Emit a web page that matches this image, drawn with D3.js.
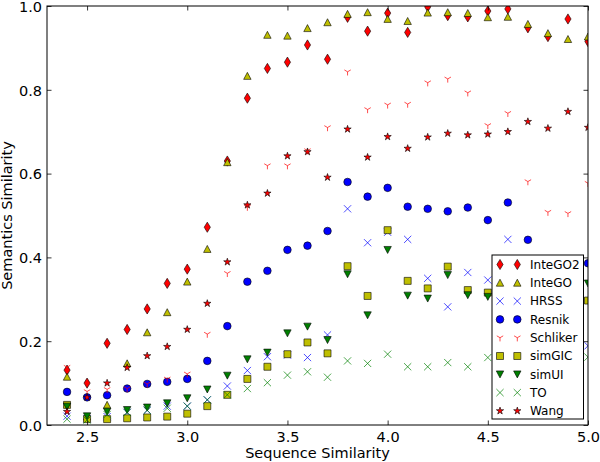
<!DOCTYPE html>
<html>
<head>
<meta charset="utf-8">
<script src="https://cdn.jsdelivr.net/npm/d3@7"></script>
<style>
  html, body { margin: 0; padding: 0; background: #fff; }
  svg { display: block; }
  text { font-family: "DejaVu Sans", sans-serif; fill: #000; }
</style>
</head>
<body>
<svg id="chart" width="600" height="462"></svg>
<script>
// ---- data ----
const xs = [2.4, 2.5, 2.6, 2.7, 2.8, 2.9, 3.0, 3.1, 3.2, 3.3, 3.4, 3.5, 3.6, 3.7, 3.8, 3.9, 4.0, 4.1, 4.2, 4.3, 4.4, 4.5, 4.6, 4.7, 4.8, 4.9, 5.0];

const inteGO2 = [0.131, 0.100, 0.195, 0.228, 0.277, 0.338, 0.372, 0.472, 0.630, 0.780, 0.851, 0.866, 0.907, 0.873, 0.973, 0.940, 0.983, 0.937, 0.998, 0.977, 0.974, 0.988, 0.993, 0.948, 0.927, 0.969, 0.915];
const inteGO  = [0.115, 0.020, 0.048, 0.147, 0.221, 0.269, 0.342, 0.420, 0.627, 0.833, 0.931, 0.929, 0.947, 0.961, 0.981, 0.985, 0.969, 0.964, 0.984, 0.985, 0.983, 0.973, 0.974, 0.957, 0.935, 0.921, 0.927];
const hrss    = [0.021, 0.015, 0.020, 0.030, 0.035, 0.045, 0.045, 0.060, 0.093, 0.130, 0.163, 0.167, 0.161, 0.215, 0.516, 0.435, 0.460, 0.443, 0.350, 0.282, 0.364, 0.346, 0.443, 0.300, 0.280, 0.300, 0.189];
const resnik  = [0.079, 0.066, 0.071, 0.087, 0.098, 0.103, 0.110, 0.153, 0.236, 0.342, 0.368, 0.418, 0.428, 0.463, 0.580, 0.545, 0.566, 0.521, 0.516, 0.510, 0.519, 0.489, 0.531, 0.442, 0.370, 0.370, 0.386];
const schliker= [0.138, 0.080, 0.085, 0.087, 0.098, 0.110, 0.122, 0.217, 0.362, 0.520, 0.619, 0.619, 0.655, 0.710, 0.843, 0.753, 0.764, 0.766, 0.817, 0.826, 0.793, 0.715, 0.744, 0.581, 0.508, 0.505, 0.577];
const simGIC  = [0.048, 0.014, 0.014, 0.016, 0.018, 0.020, 0.027, 0.045, 0.072, 0.110, 0.139, 0.169, 0.197, 0.171, 0.379, 0.308, 0.465, 0.344, 0.326, 0.378, 0.322, 0.316, 0.320, 0.310, 0.300, 0.310, 0.297];
const simUI   = [0.044, 0.021, 0.032, 0.036, 0.042, 0.052, 0.064, 0.085, 0.118, 0.157, 0.173, 0.219, 0.235, 0.203, 0.360, 0.262, 0.418, 0.309, 0.302, 0.358, 0.310, 0.306, 0.310, 0.300, 0.290, 0.300, 0.338];
const to      = [0.014, 0.012, 0.025, 0.030, 0.035, 0.040, 0.045, 0.060, 0.072, 0.087, 0.101, 0.119, 0.127, 0.114, 0.153, 0.147, 0.169, 0.139, 0.139, 0.149, 0.139, 0.161, 0.150, 0.150, 0.150, 0.150, 0.162];
const wang    = [0.032, 0.066, 0.100, 0.137, 0.165, 0.187, 0.228, 0.290, 0.389, 0.525, 0.553, 0.642, 0.652, 0.591, 0.706, 0.639, 0.688, 0.660, 0.687, 0.696, 0.692, 0.694, 0.700, 0.724, 0.708, 0.748, 0.710];

const seriesNames = ["InteGO2", "InteGO", "HRSS", "Resnik", "Schliker", "simGIC", "simUI", "TO", "Wang"];
const seriesValues = [inteGO2, inteGO, hrss, resnik, schliker, simGIC, simUI, to, wang];

const xTicks = [2.5, 3.0, 3.5, 4.0, 4.5, 5.0];
const yTicks = [0.0, 0.2, 0.4, 0.6, 0.8, 1.0];

// ---- marker styles ----
const RED = "#ff0000", YEL = "#bfbf00", BLUE = "#0000ff", GRN = "#008000";
const starPath = d3.symbol().type(d3.symbolStar).size(16.5)();
const styles = [
  { d: "M0,-5.1L3.1,0L0,5.1L-3.1,0Z", fill: RED, stroke: "#000", sw: 0.6 },
  { d: "M0,-3.6L3.7,3.4L-3.7,3.4Z", fill: YEL, stroke: "#000", sw: 0.6 },
  { d: "M-3.6,-3.6L3.6,3.6M-3.6,3.6L3.6,-3.6", fill: "none", stroke: BLUE, sw: 0.7 },
  { d: d3.symbol().type(d3.symbolCircle).size(Math.PI * 3.8 * 3.8)(), fill: BLUE, stroke: "#000", sw: 0.6 },
  { d: "M0,0L0,3.7M0,0L-3.2,-1.85M0,0L3.2,-1.85", fill: "none", stroke: RED, sw: 0.7 },
  { d: "M-3.5,-3.5H3.5V3.5H-3.5Z", fill: YEL, stroke: "#000", sw: 0.6 },
  { d: "M0,3.6L3.7,-3.4L-3.7,-3.4Z", fill: GRN, stroke: "#000", sw: 0.6 },
  { d: "M-3.6,-3.6L3.6,3.6M-3.6,3.6L3.6,-3.6", fill: "none", stroke: GRN, sw: 0.7 },
  { d: starPath, fill: RED, stroke: "#000", sw: 0.6 }
];

// ---- layout ----
const L = 47, R = 588, T = 6, B = 425;
const svg = d3.select("#chart");
const x = d3.scaleLinear().domain([2.3, 5.0]).range([L, R]);
const y = d3.scaleLinear().domain([0, 1]).range([B, T]);

svg.append("defs").append("clipPath").attr("id", "plotclip")
  .append("rect").attr("x", L).attr("y", T).attr("width", R - L).attr("height", B - T);

// points
const plot = svg.append("g").attr("clip-path", "url(#plotclip)");
seriesValues.forEach((vals, si) => {
  const st = styles[si];
  plot.append("g").selectAll("path").data(vals).join("path")
    .attr("transform", (v, i) => `translate(${x(xs[i])},${y(v)})`)
    .attr("d", st.d)
    .attr("fill", st.fill)
    .attr("stroke", st.stroke)
    .attr("stroke-width", st.sw);
});

// axes (ticks inward, mirrored)
const fmt = d3.format(".1f");
const ax = svg.append("g").attr("transform", `translate(0,${B})`)
  .call(d3.axisBottom(x).tickValues(xTicks).tickFormat(fmt).tickSizeInner(-4.5).tickSizeOuter(0).tickPadding(7));
const axT = svg.append("g").attr("transform", `translate(0,${T})`)
  .call(d3.axisTop(x).tickValues(xTicks).tickFormat("").tickSizeInner(-4.5).tickSizeOuter(0));
const ay = svg.append("g").attr("transform", `translate(${L},0)`)
  .call(d3.axisLeft(y).tickValues(yTicks).tickFormat(fmt).tickSizeInner(-4.5).tickSizeOuter(0).tickPadding(5));
const ayR = svg.append("g").attr("transform", `translate(${R},0)`)
  .call(d3.axisRight(y).tickValues(yTicks).tickFormat("").tickSizeInner(-4.5).tickSizeOuter(0));
[ax, axT, ay, ayR].forEach(g => {
  g.select(".domain").remove();
  g.selectAll(".tick line").attr("stroke", "#000").attr("stroke-width", 0.8);
  g.selectAll(".tick text").attr("font-size", 14.5).attr("font-family", "DejaVu Sans").attr("fill", "#000");
});
ay.selectAll(".tick text").attr("dy", "0.37em");

// frame
svg.append("rect").attr("x", L).attr("y", T).attr("width", R - L).attr("height", B - T)
  .attr("fill", "none").attr("stroke", "#000").attr("stroke-width", 1);

// axis titles
svg.append("text").attr("x", (L + R) / 2).attr("y", 458).attr("text-anchor", "middle")
  .attr("font-size", 14.5).text("Sequence Similarity");
svg.append("text").attr("transform", `translate(12,${(T + B) / 2}) rotate(-90)`)
  .attr("text-anchor", "middle").attr("font-size", 14.5).text("Semantics Similarity");

// legend
const lg = svg.append("g");
const lgX = 492, lgY = 255, lgW = 91.5, lgH = 164;
lg.append("rect").attr("x", lgX).attr("y", lgY).attr("width", lgW).attr("height", lgH)
  .attr("fill", "#fff").attr("stroke", "#000").attr("stroke-width", 1);
seriesNames.forEach((name, i) => {
  const cy = 264.5 + i * 18.3;
  const st = styles[i];
  [500, 517.3].forEach(mx => {
    lg.append("path").attr("transform", `translate(${mx},${cy})`).attr("d", st.d)
      .attr("fill", st.fill).attr("stroke", st.stroke).attr("stroke-width", st.sw);
  });
  lg.append("text").attr("x", 530).attr("y", cy).attr("dy", "0.36em")
    .attr("font-size", 12).text(name);
});
</script>
</body>
</html>
